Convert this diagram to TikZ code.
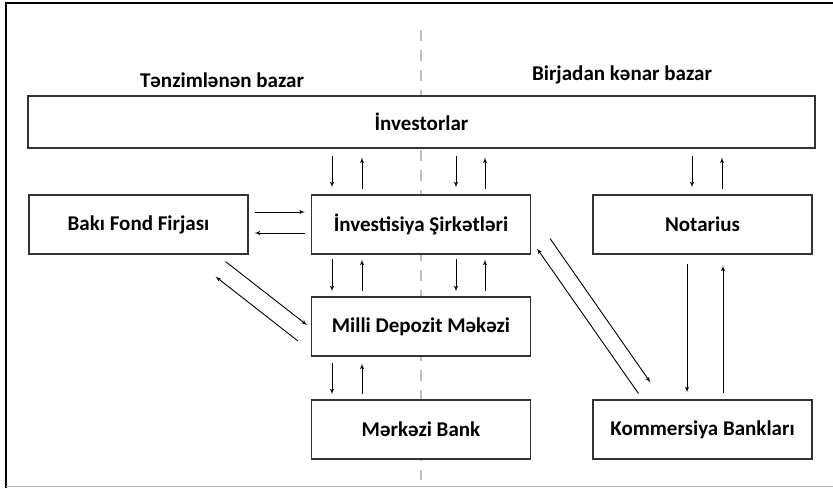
\documentclass[tikz,border=0pt]{standalone}
\usepackage{fontspec}
\setmainfont{Carlito}
\usetikzlibrary{arrows,positioning,calc}

\begin{document}
\begin{tikzpicture}[x=1pt, y=-1pt,
  box/.style={draw=black!80, fill=white, rectangle, line width=1.1pt,
              minimum width=219pt, minimum height=59pt, inner sep=0pt,
              font=\fontsize{21}{24}\selectfont\bfseries, text centered},
  head/.style={draw=none, font=\fontsize{21}{24}\selectfont\bfseries},
  arr/.style={-latex', line width=0.9pt},
  split/.style={draw=black!25, line width=2pt, dash pattern=on 11pt off 9pt}
]
\useasboundingbox (0,0) rectangle (833,488);
% frame
\draw[line width=1.4pt] (6,488) -- (6,3) -- (833,3);
\draw[black!30, line width=1pt] (6,486) -- (833,486);

% dividing line
\draw[split] (421,30) -- (421,480);

% headings
\node[head] (reg) at (222,80) {Tənzimlənən bazar};
\node[head] (otc) at (622,75) {Birjadan kənar bazar};

% boxes
\node[box, minimum width=787pt, minimum height=52pt] (inv) at (421.5,122) {İnvestorlar};
\node[box] (bff) at (138.5,224.5) {Bakı Fond Firjası};
\node[box] (isr) at (421,224.5) {İnvestisiya Şirkətləri};
\node[box] (not) at (702.5,224.5) {Notarius};
\node[box] (mdm) at (421,326.5) {Milli Depozit Məkəzi};
\node[box] (mb) at (421,429.5) {Mərkəzi Bank};
\node[box] (kb) at (702.5,429.5) {Kommersiya Bankları};

% Investorlar <-> below
\draw[arr] ($(isr.north)+(-89,-38)$) -- ($(isr.north)+(-89,-7)$);
\draw[arr] ($(isr.north)+(-59,-5)$) -- ($(isr.north)+(-59,-37)$);
\draw[arr] ($(isr.north)+(35,-38)$) -- ($(isr.north)+(35,-7)$);
\draw[arr] ($(isr.north)+(64,-5)$) -- ($(isr.north)+(64,-37)$);
\draw[arr] ($(not.north)+(-10.5,-38)$) -- ($(not.north)+(-10.5,-7)$);
\draw[arr] ($(not.north)+(19.5,-5)$) -- ($(not.north)+(19.5,-37)$);

% Baki Fond Firjasi <-> Investisiya Sirketleri
\draw[arr] ($(bff.east)+(6,-12.5)$) -- ($(isr.west)+(-6,-12.5)$);
\draw[arr] ($(isr.west)+(-6,8.5)$) -- ($(bff.east)+(6,8.5)$);

% Investisiya Sirketleri <-> Milli Depozit Mekezi
\draw[arr] ($(isr.south)+(-89,4)$) -- ($(mdm.north)+(-89,-5)$);
\draw[arr] ($(mdm.north)+(-59,-5)$) -- ($(isr.south)+(-59,5)$);
\draw[arr] ($(isr.south)+(35,4)$) -- ($(mdm.north)+(35,-5)$);
\draw[arr] ($(mdm.north)+(64,-5)$) -- ($(isr.south)+(64,5)$);

% Milli Depozit Mekezi <-> Merkezi Bank
\draw[arr] ($(mdm.south)+(-89,6)$) -- ($(mb.north)+(-89,-5)$);
\draw[arr] ($(mb.north)+(-59,-5)$) -- ($(mdm.south)+(-59,7)$);

% Baki Fond Firjasi <-> Milli Depozit Mekezi
\draw[arr] ($(bff.south east)+(-23,7)$) -- ($(mdm.west)+(-4,-1.5)$);
\draw[arr] ($(mdm.west)+(-13,14.5)$) -- ($(bff.south east)+(-33,22)$);

% Investisiya Sirketleri <-> Kommersiya Banklari
\draw[arr] ($(isr.south east)+(19,-16)$) -- ($(kb.north west)+(58,-17)$);
\draw[arr] ($(kb.north west)+(46,-6)$) -- ($(isr.south east)+(6,-6)$);

% Notarius <-> Kommersiya Banklari
\draw[arr] ($(not.south)+(-15.5,9)$) -- ($(kb.north)+(-15.5,-7)$);
\draw[arr] ($(kb.north)+(20.5,-6)$) -- ($(not.south)+(20.5,11)$);
\end{tikzpicture}
\end{document}
